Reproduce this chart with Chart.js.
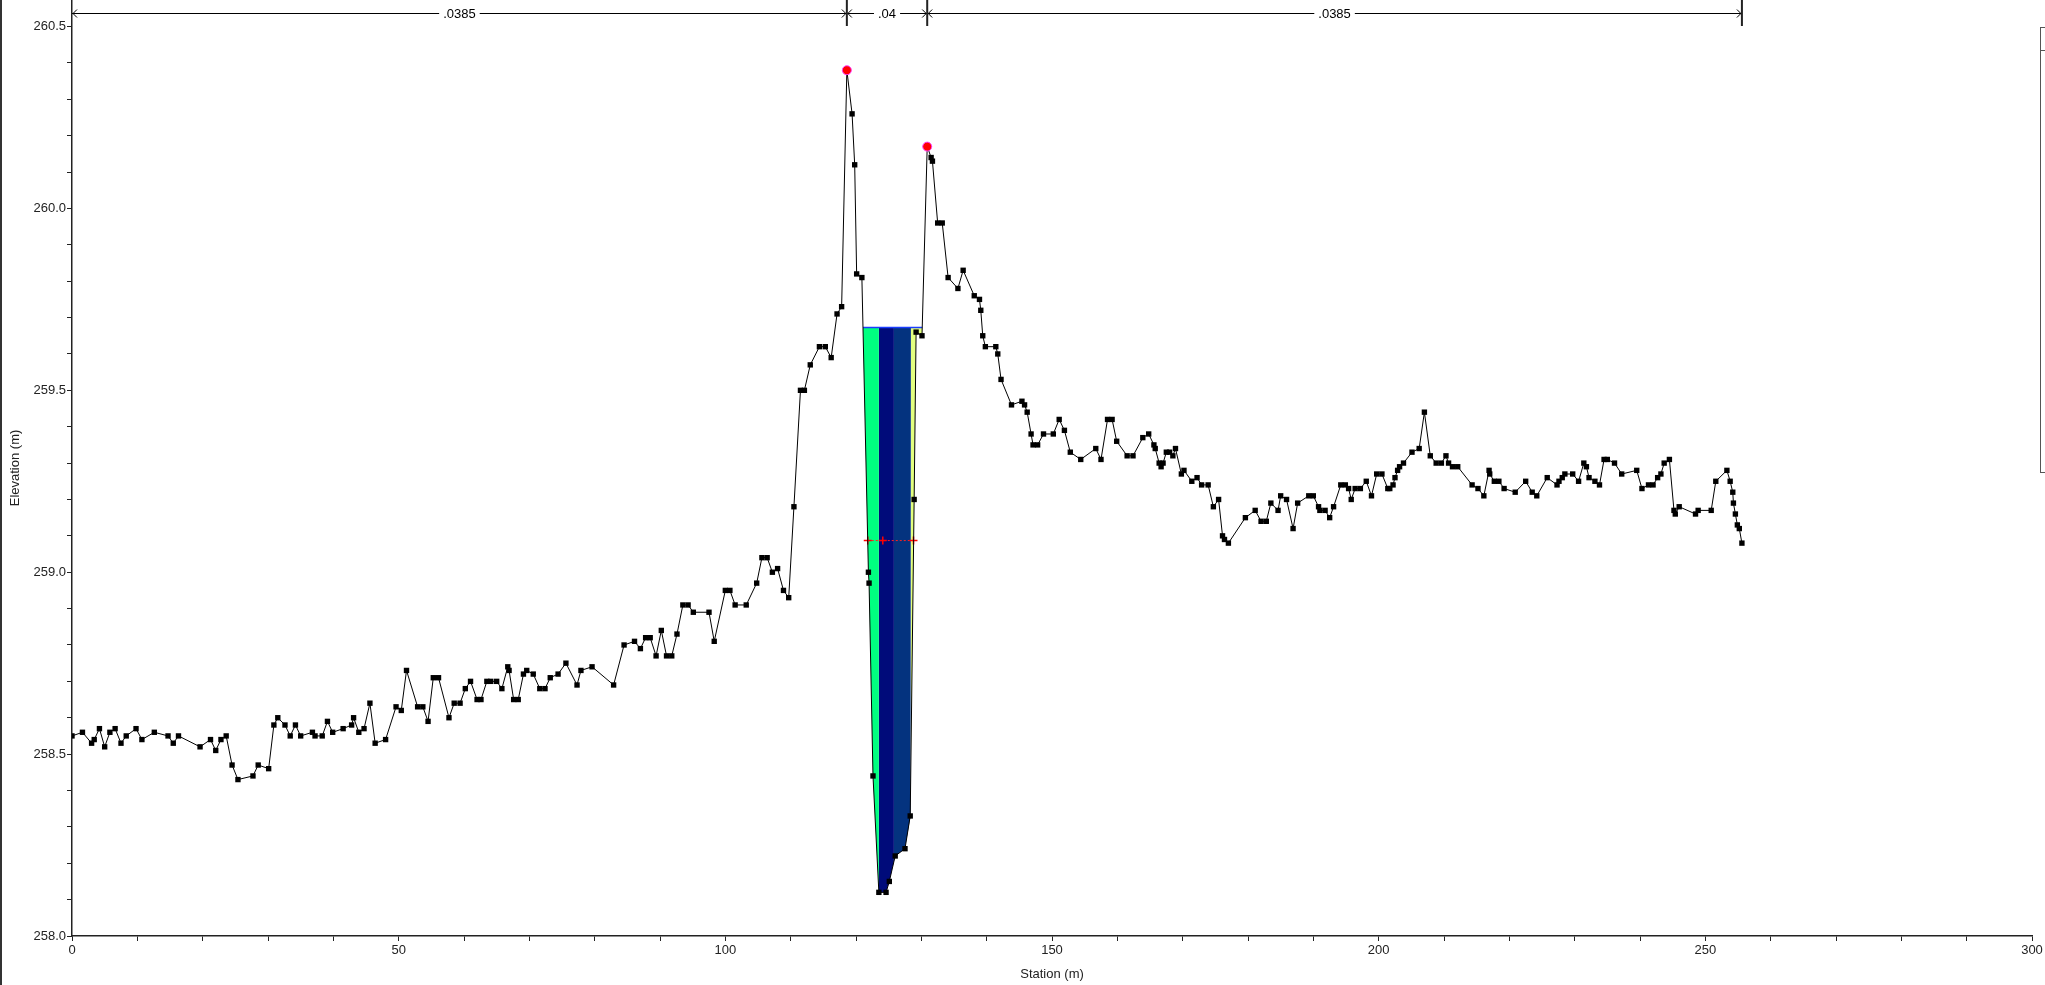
<!DOCTYPE html>
<html>
<head>
<meta charset="utf-8">
<title>Cross Section</title>
<script src="https://cdn.jsdelivr.net/npm/chart.js@4.4.1/dist/chart.umd.min.js"></script>
<style>
    html, body { margin: 0; padding: 0; background: #ffffff; }
    #wrap { width: 2045px; height: 985px; }
</style>
</head>
<body>
<div id="wrap"><canvas id="xsChart" width="2045" height="985"></canvas></div>
<script>
// Cross section data (station m, elevation m)
const stations = [
    0.0, 1.6, 3.0, 3.4, 4.2, 5.0, 5.8, 6.6, 7.5, 8.3, 9.8, 10.7, 12.6, 14.7, 15.5, 16.3, 19.6, 21.2, 22.0, 22.8,
    23.6, 24.5, 25.4, 27.7, 28.5, 30.1, 30.9, 31.5, 32.6, 33.4, 34.2, 35.0, 36.8, 37.2, 38.3, 39.1, 39.9, 41.5, 42.8, 43.1,
    43.9, 44.7, 45.6, 46.4, 48.0, 49.6, 50.4, 51.2, 52.9, 53.7, 54.5, 55.3, 56.1, 57.7, 58.5, 59.4, 60.2, 61.0, 62.0, 62.6,
    63.5, 64.1, 65.0, 65.8, 66.7, 66.9, 67.6, 68.3, 69.1, 69.6, 70.6, 71.6, 72.4, 73.2, 74.4, 75.6, 77.3, 77.9, 79.6, 82.9,
    84.5, 86.1, 87.0, 87.8, 88.5, 89.4, 90.2, 91.0, 91.8, 92.6, 93.5, 94.3, 95.1, 97.5, 98.3, 100.0, 100.7, 101.5, 103.2, 104.8,
    105.6, 106.4, 107.2, 108.0, 108.9, 109.7, 110.5, 111.5, 112.1, 113.0, 114.4, 115.3, 116.2, 117.1, 117.8, 118.6, 119.4, 119.8, 120.1, 120.9,
    121.9, 122.0, 122.6, 123.5, 124.6, 125.1, 126.0, 127.5, 128.3, 128.9, 129.2, 130.1, 130.9, 131.5, 131.7, 132.5, 133.2, 134.1, 135.6, 136.4,
    138.1, 138.9, 139.1, 139.4, 139.8, 141.4, 141.7, 142.2, 143.8, 145.4, 145.8, 146.2, 146.8, 147.1, 147.8, 148.7, 150.2, 151.1, 151.9, 152.8,
    154.4, 156.7, 157.5, 158.5, 159.2, 159.9, 161.5, 162.4, 163.9, 164.8, 165.6, 165.8, 166.4, 166.7, 167.0, 167.5, 168.0, 168.5, 168.9, 169.8,
    170.2, 171.4, 172.2, 172.9, 173.9, 174.7, 175.5, 176.1, 176.4, 177.0, 179.6, 181.1, 182.0, 182.8, 183.5, 184.6, 185.0, 185.9, 186.9, 187.6,
    189.3, 190.0, 190.8, 191.0, 191.8, 192.5, 193.1, 194.2, 194.9, 195.4, 195.8, 196.4, 197.2, 198.1, 198.9, 199.7, 200.5, 201.4, 201.7, 202.2,
    202.5, 202.9, 203.2, 203.8, 205.1, 206.2, 207.0, 207.9, 208.8, 209.6, 210.3, 210.7, 211.3, 212.1, 214.3, 215.2, 216.1, 216.9, 217.0, 217.7,
    218.4, 219.2, 220.9, 222.5, 223.5, 224.2, 225.8, 227.3, 227.6, 228.1, 228.5, 229.7, 230.6, 231.4, 231.8, 232.2, 233.1, 233.8, 234.5, 235.0,
    236.1, 237.2, 239.5, 240.3, 241.3, 242.0, 242.7, 243.2, 243.7, 244.5, 245.2, 245.4, 246.0, 248.5, 248.9, 250.9, 251.6, 253.3, 253.8, 254.2,
    254.3, 254.6, 254.9, 255.2, 255.6
];
const elevations = [
    258.55, 258.56, 258.53, 258.54, 258.57, 258.52, 258.56, 258.57, 258.53, 258.55, 258.57, 258.54, 258.56, 258.55, 258.53, 258.55, 258.52, 258.54, 258.51, 258.54,
    258.55, 258.47, 258.43, 258.44, 258.47, 258.46, 258.58, 258.60, 258.58, 258.55, 258.58, 258.55, 258.56, 258.55, 258.55, 258.59, 258.56, 258.57, 258.58, 258.60,
    258.56, 258.57, 258.64, 258.53, 258.54, 258.63, 258.62, 258.73, 258.63, 258.63, 258.59, 258.71, 258.71, 258.60, 258.64, 258.64, 258.68, 258.70, 258.65, 258.65,
    258.70, 258.70, 258.70, 258.68, 258.74, 258.73, 258.65, 258.65, 258.72, 258.73, 258.72, 258.68, 258.68, 258.71, 258.72, 258.75, 258.69, 258.73, 258.74, 258.69,
    258.80, 258.81, 258.79, 258.82, 258.82, 258.77, 258.84, 258.77, 258.77, 258.83, 258.91, 258.91, 258.89, 258.89, 258.81, 258.95, 258.95, 258.91, 258.91, 258.97,
    259.04, 259.04, 259.00, 259.01, 258.95, 258.93, 259.18, 259.50, 259.50, 259.57, 259.62, 259.62, 259.59, 259.71, 259.73, 260.38, 260.26, 260.12, 259.82, 259.81,
    259.00, 258.97, 258.44, 258.12, 258.12, 258.15, 258.22, 258.24, 258.33, 259.20, 259.66, 259.65, 260.17, 260.14, 260.13, 259.96, 259.96, 259.81, 259.78, 259.83,
    259.76, 259.75, 259.72, 259.65, 259.62, 259.62, 259.60, 259.53, 259.46, 259.47, 259.46, 259.44, 259.38, 259.35, 259.35, 259.38, 259.38, 259.42, 259.39, 259.33,
    259.31, 259.34, 259.31, 259.42, 259.42, 259.36, 259.32, 259.32, 259.37, 259.38, 259.35, 259.34, 259.30, 259.29, 259.30, 259.33, 259.33, 259.32, 259.34, 259.27,
    259.28, 259.25, 259.26, 259.24, 259.24, 259.18, 259.20, 259.10, 259.09, 259.08, 259.15, 259.17, 259.14, 259.14, 259.19, 259.17, 259.21, 259.20, 259.12, 259.19,
    259.21, 259.21, 259.18, 259.17, 259.17, 259.15, 259.18, 259.24, 259.24, 259.23, 259.20, 259.23, 259.23, 259.25, 259.21, 259.27, 259.27, 259.23, 259.23, 259.24,
    259.26, 259.28, 259.29, 259.30, 259.33, 259.34, 259.44, 259.32, 259.30, 259.30, 259.32, 259.30, 259.29, 259.29, 259.24, 259.23, 259.21, 259.28, 259.27, 259.25,
    259.25, 259.23, 259.22, 259.25, 259.22, 259.21, 259.26, 259.24, 259.25, 259.26, 259.27, 259.27, 259.25, 259.30, 259.29, 259.26, 259.25, 259.24, 259.31, 259.31,
    259.30, 259.27, 259.28, 259.23, 259.24, 259.24, 259.26, 259.27, 259.30, 259.31, 259.17, 259.16, 259.18, 259.16, 259.17, 259.17, 259.25, 259.28, 259.25, 259.22,
    259.19, 259.16, 259.13, 259.12, 259.08
];

// bank stations
const bankStations = [118.6, 130.9];
const bankElevations = [260.38, 260.17];

// water surface and flow distribution
const wsElevation = 259.673;
const bandBreaks = [123.5, 125.8, 128.4];
const bandColors = ['#00ff80', '#000b7a', '#04337f', '#e3ff80'];

// critical depth line
const critStations = [121.8, 124.1, 128.8];
const critElevation = 259.087;

// Manning's n regions
const nStations = [0, 118.6, 130.9, 255.6];
const nValues = ['.0385', '.04', '.0385'];

const FONT = "'Liberation Sans', Arial, sans-serif";
const TEXT = '#222222';

const groundPoints = stations.map((s, i) => ({ x: s, y: elevations[i] }));

function groundAt(st) {
    for (let i = 0; i < stations.length - 1; i++) {
        if (st >= stations[i] && st <= stations[i + 1]) {
            const t = (st - stations[i]) / (stations[i + 1] - stations[i]);
            return elevations[i] + t * (elevations[i + 1] - elevations[i]);
        }
    }
    return elevations[elevations.length - 1];
}

// water edges: walk out from the channel low point
function waterEdges() {
    let lowIdx = 0;
    elevations.forEach((e, i) => { if (e < elevations[lowIdx]) lowIdx = i; });
    let l = lowIdx, r = lowIdx;
    while (l > 0 && elevations[l - 1] < wsElevation) l--;
    while (r < elevations.length - 1 && elevations[r + 1] < wsElevation) r++;
    const lt = (wsElevation - elevations[l]) / (elevations[l - 1] - elevations[l]);
    const rt = (wsElevation - elevations[r]) / (elevations[r + 1] - elevations[r]);
    return [
        stations[l] + lt * (stations[l - 1] - stations[l]),
        stations[r] + rt * (stations[r + 1] - stations[r])
    ];
}

const edges = waterEdges();
const bandEdges = [edges[0], ...bandBreaks, edges[1]];

function bandPolygon(a, b) {
    const pts = [{ x: a, y: wsElevation }, { x: b, y: wsElevation }, { x: b, y: groundAt(b) }];
    for (let i = stations.length - 1; i >= 0; i--) {
        if (stations[i] > a && stations[i] < b) pts.push({ x: stations[i], y: elevations[i] });
    }
    pts.push({ x: a, y: groundAt(a) });
    return pts;
}

const bandDatasets = bandColors.map((c, i) => ({
    data: bandPolygon(bandEdges[i], bandEdges[i + 1]),
    fill: 'shape',
    backgroundColor: c,
    borderWidth: 0,
    pointRadius: 0,
    order: 10
}));

const framePlugin = {
    id: 'frame',
    afterDraw(chart) {
        const ctx = chart.ctx;
        ctx.save();
        ctx.strokeStyle = '#333333';
        ctx.lineWidth = 2;
        ctx.beginPath();
        ctx.moveTo(1, 0);
        ctx.lineTo(1, chart.height);
        ctx.stroke();
        // clipped legend box on the right
        ctx.lineWidth = 1;
        ctx.strokeStyle = '#555555';
        ctx.strokeRect(2040.5, 27.5, 20, 445);
        ctx.beginPath();
        ctx.moveTo(2040, 50.5);
        ctx.lineTo(2045, 50.5);
        ctx.stroke();
        ctx.restore();
    }
};

const nValuePlugin = {
    id: 'nValues',
    afterDatasetsDraw(chart) {
        const { ctx, chartArea, scales } = chart;
        const y = chartArea.top + 13;
        const xs = nStations.map(s => scales.x.getPixelForValue(s));
        ctx.save();
        ctx.strokeStyle = '#000000';
        ctx.fillStyle = '#000000';
        ctx.lineWidth = 1;
        ctx.font = '13px ' + FONT;
        ctx.textAlign = 'center';
        ctx.textBaseline = 'middle';

        for (let i = 0; i < nValues.length; i++) {
            const x0 = xs[i], x1 = xs[i + 1];
            const mid = (x0 + x1) / 2;
            const w = ctx.measureText(nValues[i]).width + 8;
            ctx.beginPath();
            ctx.moveTo(x0, y + 0.5);
            ctx.lineTo(mid - w / 2, y + 0.5);
            ctx.moveTo(mid + w / 2, y + 0.5);
            ctx.lineTo(x1, y + 0.5);
            // arrow heads
            ctx.moveTo(x0 + 5, y - 3.5);
            ctx.lineTo(x0 + 1, y + 0.5);
            ctx.lineTo(x0 + 5, y + 4.5);
            ctx.moveTo(x1 - 5, y - 3.5);
            ctx.lineTo(x1 - 1, y + 0.5);
            ctx.lineTo(x1 - 5, y + 4.5);
            ctx.stroke();
            ctx.fillText(nValues[i], mid, y + 1);
        }
        ctx.lineWidth = 2;
        ctx.strokeStyle = '#222222';
        ctx.beginPath();
        xs.slice(1).forEach(x => {
            ctx.moveTo(x, chartArea.top);
            ctx.lineTo(x, chartArea.top + 26);
        });
        ctx.stroke();
        ctx.restore();
    }
};

const ctx = document.getElementById('xsChart').getContext('2d');
new Chart(ctx, {
    type: 'line',
    data: {
        datasets: [
            ...bandDatasets,
            {
                data: [{ x: edges[0], y: wsElevation }, { x: edges[1], y: wsElevation }],
                borderColor: '#1a3cff',
                borderWidth: 1.5,
                pointRadius: 0,
                fill: false,
                order: 8
            },
            {
                data: critStations.map(s => ({ x: s, y: critElevation })),
                borderColor: '#ff2020',
                borderWidth: 1,
                borderDash: [2, 2],
                pointStyle: 'cross',
                pointRadius: 4,
                pointBorderColor: '#ff0000',
                pointBorderWidth: 1.5,
                fill: false,
                order: 6
            },
            {
                data: groundPoints,
                borderColor: '#000000',
                borderWidth: 1,
                pointStyle: 'rect',
                pointRadius: 3.8,
                pointBackgroundColor: '#000000',
                pointBorderWidth: 0,
                fill: false,
                order: 2
            },
            {
                data: bankStations.map((s, i) => ({ x: s, y: bankElevations[i] })),
                showLine: false,
                pointStyle: 'circle',
                pointRadius: 4.5,
                pointBackgroundColor: '#ff0000',
                pointBorderColor: '#ff40ff',
                pointBorderWidth: 1,
                order: 1
            }
        ]
    },
    options: {
        responsive: false,
        animation: false,
        layout: { autoPadding: false, padding: { left: 0, right: 13, top: 0, bottom: 0 } },
        plugins: {
            legend: { display: false },
            tooltip: { enabled: false }
        },
        scales: {
            x: {
                type: 'linear',
                min: 0,
                max: 300,
                grid: { drawOnChartArea: false, drawTicks: true, tickLength: 5, color: '#222222' },
                border: { color: '#222222', width: 1.5 },
                ticks: {
                    stepSize: 10,
                    autoSkip: false,
                    maxRotation: 0,
                    padding: 2,
                    color: TEXT,
                    font: { family: FONT, size: 13 },
                    callback: v => (Math.abs(v % 50) < 1e-6 ? String(Math.round(v)) : '')
                },
                title: {
                    display: true,
                    text: 'Station (m)',
                    color: TEXT,
                    font: { family: FONT, size: 13 },
                    padding: { top: 0, bottom: 3 }
                },
                afterFit(scale) {
                    scale.height = 49;
                    scale.paddingLeft = 0;
                    scale.paddingRight = 0;
                }
            },
            y: {
                type: 'linear',
                min: 258.0,
                max: 260.573,
                grid: { drawOnChartArea: false, drawTicks: true, tickLength: 5, color: '#222222' },
                border: { color: '#222222', width: 1.5 },
                ticks: {
                    stepSize: 0.1,
                    includeBounds: false,
                    autoSkip: false,
                    padding: 1,
                    color: TEXT,
                    font: { family: FONT, size: 13 },
                    callback: v => (Math.abs(v * 2 - Math.round(v * 2)) < 1e-6 ? v.toFixed(1) : '')
                },
                title: {
                    display: true,
                    text: 'Elevation (m)',
                    color: TEXT,
                    font: { family: FONT, size: 13 },
                    padding: { top: 8, bottom: 0 }
                },
                afterFit(scale) {
                    scale.width = 72;
                    scale.paddingTop = 0;
                    scale.paddingBottom = 0;
                }
            }
        }
    },
    plugins: [framePlugin, nValuePlugin]
});
</script>
</body>
</html>
